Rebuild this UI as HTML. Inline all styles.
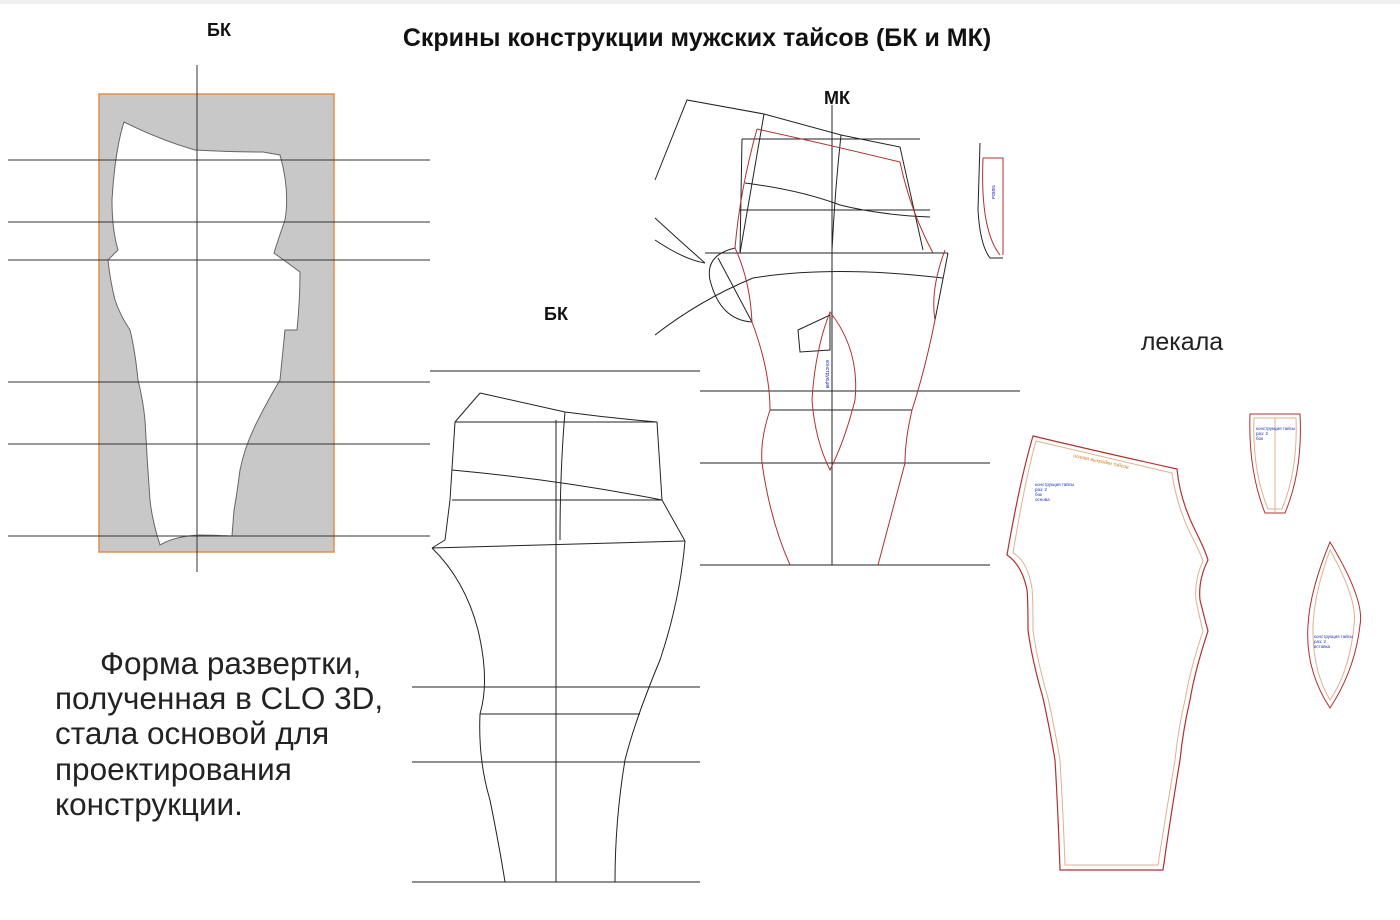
<!DOCTYPE html>
<html><head><meta charset="utf-8"><style>
html,body{margin:0;padding:0;background:#fff;}
svg{display:block;font-family:"Liberation Sans",sans-serif;}
</style></head><body>
<svg width="1400" height="920" viewBox="0 0 1400 920" xmlns="http://www.w3.org/2000/svg">
<rect x="0" y="0" width="1400" height="4" fill="#eee"/>
<text x="697" y="46" font-size="25" font-weight="bold" text-anchor="middle" fill="#111">Скрины конструкции мужских тайсов (БК и МК)</text>
<text x="219" y="36" font-size="18" font-weight="bold" text-anchor="middle" fill="#111">БК</text>

<!-- left panel -->
<rect x="99" y="94" width="235" height="458" fill="#c8c8c8" stroke="#e09050" stroke-width="1.5"/>
<path d="M124,122 Q160,140 195,150 Q230,152 263,152 L280,155 Q290,190 285,220 Q278,240 274,253 L300,272 Q300,300 297,330 L285,330 Q282,360 280,380 Q268,400 258,420 Q245,445 240,470 Q236,500 234,510 L232,536 Q210,535 200,535 Q175,536 160,545 Q152,520 150,500 Q147,460 145,420 Q143,400 138,380 Q135,350 130,330 Q120,315 115,300 Q110,280 108,260 L118,250 Q112,230 112,200 Q115,150 124,122 Z" fill="#fff" stroke="#666" stroke-width="1"/>
<g stroke="#333" stroke-width="1">
<line x1="197" y1="65" x2="197" y2="572"/>
<line x1="8" y1="160" x2="430" y2="160"/>
<line x1="8" y1="222" x2="430" y2="222"/>
<line x1="8" y1="260" x2="430" y2="260"/>
<line x1="8" y1="382" x2="430" y2="382"/>
<line x1="8" y1="444" x2="430" y2="444"/>
<line x1="8" y1="536" x2="430" y2="536"/>
</g>

<g font-size="31.5" fill="#222">
<text x="100" y="674">Форма развертки,</text>
<text x="55" y="709">полученная в CLO 3D,</text>
<text x="55" y="744">стала основой для</text>
<text x="55" y="780">проектирования</text>
<text x="55" y="815">конструкции.</text>
</g>

<!-- middle BK -->
<text x="556" y="320" font-size="18" font-weight="bold" text-anchor="middle" fill="#111">БК</text>
<g stroke="#222" stroke-width="1" fill="none">
<line x1="430" y1="371" x2="700" y2="371"/>
<line x1="412" y1="687" x2="700" y2="687"/>
<line x1="480" y1="714" x2="640" y2="714"/>
<line x1="412" y1="762" x2="700" y2="762"/>
<line x1="412" y1="882" x2="700" y2="882"/>
<line x1="556" y1="420" x2="556" y2="882"/>
<path d="M480,393 Q520,402 565,412 Q610,418 657,422"/>
<line x1="455" y1="422" x2="657" y2="422"/>
<path d="M452,470 Q560,480 662,500"/>
<line x1="452" y1="500" x2="662" y2="500"/>
<line x1="432" y1="548" x2="685" y2="541"/>
<path d="M480,393 L455,422 L450,500 L445,540 L432,548"/>
<path d="M657,422 L662,500 L685,541"/>
<path d="M565,412 Q560,470 560,540"/>
<path d="M432,548 Q465,580 478,630 Q490,680 480,714 Q478,760 490,800 Q500,850 505,882"/>
<path d="M685,541 Q680,600 660,660 Q635,720 625,760 Q615,820 615,882"/>
</g>

<!-- MK -->
<text x="837" y="104" font-size="18" font-weight="bold" text-anchor="middle" fill="#111">МК</text>
<g stroke="#222" stroke-width="1" fill="none">
<path d="M655,180 L687,100 L764,114 L841,135 L900,147 L923,250"/>
<line x1="742" y1="139" x2="920" y2="139"/>
<line x1="740" y1="210" x2="930" y2="210"/>
<line x1="705" y1="253" x2="948" y2="253"/>
<path d="M745,183 Q800,190 840,205 Q880,215 930,217"/>
<path d="M753,278 Q832,265 943,278"/>
<path d="M764,114 L740,253"/>
<line x1="742" y1="139" x2="740" y2="253"/>
<line x1="832" y1="105" x2="832" y2="565"/>
<path d="M841,135 Q835,190 832,250"/>
<path d="M948,253 L935,320"/>
<path d="M655,218 Q690,250 705,263"/>
<path d="M655,240 Q685,260 705,263"/>
<path d="M655,335 Q700,300 753,278"/>
<path d="M735,248 Q705,255 710,280 Q720,320 752,322"/>
<path d="M718,258 L752,322"/>
<line x1="700" y1="391" x2="1020" y2="391"/>
<line x1="770" y1="410" x2="912" y2="410"/>
<line x1="700" y1="463" x2="990" y2="463"/>
<line x1="700" y1="565" x2="990" y2="565"/>
<path d="M798,330 L830,315 L830,350 L800,352 Z"/>
<path d="M980,143 L978,210 Q980,245 990,258 L1003,258"/>
</g>
<g stroke="#b03030" stroke-width="1" fill="none">
<path d="M757,129 Q830,145 900,162 Q910,210 933,253"/>
<path d="M757,129 Q740,190 735,248 Q750,280 752,322 Q770,370 770,410 Q760,440 762,463 Q770,520 790,565"/>
<path d="M945,250 Q930,290 935,320 Q925,370 912,410 Q905,440 905,463 Q890,520 878,565"/>
<path d="M830,312 Q860,350 855,400 Q845,440 830,470 Q815,440 812,400 Q815,350 830,312 Z"/>
<path d="M983,158 L1003,158 L1003,255 M983,158 Q980,230 1000,255"/>
</g>
<g fill="#2030c0" font-size="5"><text x="826" y="360" transform="rotate(90 826 360)">конструкция</text><text x="992" y="185" transform="rotate(90 992 185)">таисы</text></g>

<!-- lekala -->
<text x="1182" y="350" font-size="25" text-anchor="middle" fill="#222">лекала</text>
<g fill="none">
<path d="M1033,436 Q1100,452 1177,469 Q1180,500 1195,530 Q1205,550 1208,560 Q1198,580 1200,600 Q1205,620 1208,631 Q1195,670 1190,700 Q1183,730 1180,760 Q1170,820 1163,870 L1060,870 Q1058,810 1055,760 Q1050,730 1043,698 Q1032,660 1028,630 Q1028,600 1027,590 Q1022,565 1007,555 Q1020,480 1033,436 Z" stroke="#b03030" stroke-width="1.2"/>
<path d="M1036,441 Q1100,456 1172,473 Q1176,503 1190,533 Q1200,552 1203,561 Q1194,580 1196,600 Q1200,620 1203,631 Q1190,670 1185,700 Q1178,730 1175,760 Q1165,820 1158,865 L1065,865 Q1063,810 1060,760 Q1055,730 1048,698 Q1037,660 1033,630 Q1033,600 1032,588 Q1027,560 1013,553 Q1025,480 1036,441 Z" stroke="#e0b090" stroke-width="1"/>
<path d="M1250,414 L1300,414 Q1303,470 1285,513 L1265,513 Q1248,470 1250,414 Z" stroke="#b03030"/>
<path d="M1254,418 L1296,418 Q1298,470 1282,509 L1268,509 Q1252,470 1254,418 Z M1275,418 L1275,513" stroke="#e0b090"/>
<path d="M1330,542 Q1365,600 1360,625 Q1355,670 1330,708 Q1305,670 1308,625 Q1310,590 1330,542 Z" stroke="#b03030"/>
<path d="M1330,550 Q1358,600 1354,625 Q1350,670 1330,700 Q1312,670 1313,625 Q1315,590 1330,550 Z" stroke="#e0b090"/>
</g>
<g fill="#d08020" font-size="5"><text x="1073" y="457" transform="rotate(12 1073 457)">основа выкройки тайсов</text></g>
<g fill="#2030c0" font-size="4.5">
<text x="1035" y="486">конструкция тайсы</text><text x="1035" y="491">раз: 2</text><text x="1035" y="496">бок</text><text x="1035" y="501">основа</text>
<text x="1256" y="430">конструкция тайсы</text><text x="1256" y="435">раз: 2</text><text x="1256" y="440">бок</text>
<text x="1314" y="638">конструкция тайсы</text><text x="1314" y="643">раз: 2</text><text x="1314" y="648">вставка</text>
</g>
</svg>
</body></html>
